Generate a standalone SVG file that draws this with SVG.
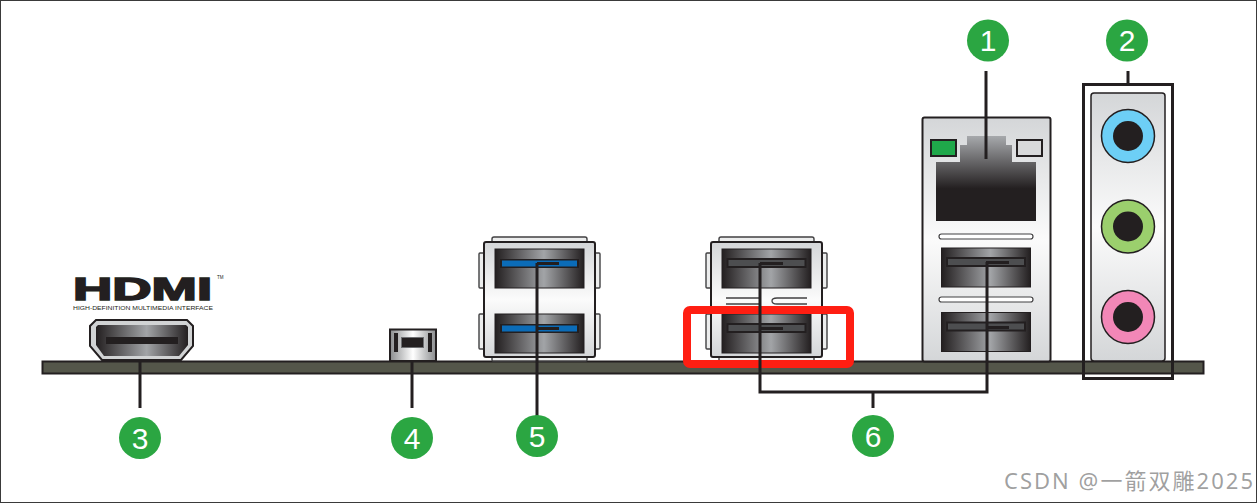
<svg xmlns="http://www.w3.org/2000/svg" width="1257" height="503" viewBox="0 0 1257 503">
<defs>
<linearGradient id="port" x1="0" x2="1" y1="0" y2="0"><stop offset="0" stop-color="#231f20"/><stop offset=".55" stop-color="#a2a4a7"/><stop offset="1" stop-color="#231f20"/></linearGradient>
<linearGradient id="metal" x1="0" x2="0" y1="0" y2="1"><stop offset="0" stop-color="#d4d6d8"/><stop offset=".5" stop-color="#fbfbfb"/><stop offset="1" stop-color="#d4d6d8"/></linearGradient>
<linearGradient id="lan" x1="0" x2="0" y1="0" y2="1"><stop offset="0" stop-color="#a7a9ac"/><stop offset=".62" stop-color="#231f20"/><stop offset="1" stop-color="#231f20"/></linearGradient>
<linearGradient id="btn" x1="0" x2="1" y1="0" y2="0"><stop offset="0" stop-color="#8a8c8e"/><stop offset=".5" stop-color="#fff"/><stop offset="1" stop-color="#8a8c8e"/></linearGradient>
<g id="usbport"><rect x="0" y="0" width="89" height="39" fill="url(#port)" stroke="#231f20"/><rect x="5.500" y="10" width="78" height="8" fill="#4d4e50" stroke="#231f20" stroke-width="2"/></g>
<g id="usbport3"><rect x="0" y="0" width="89" height="39" fill="url(#port)" stroke="#231f20"/><rect x="5" y="10" width="79" height="9" fill="#231f20"/><rect x="7" y="11.500" width="75" height="6" fill="#0b6cb8"/></g>
<g id="stack">
<rect x="8" y="-5" width="95" height="6" rx="2" fill="#eceded" stroke="#414042" stroke-width="1.400"/>
<rect x="8" y="114" width="95" height="5" rx="1" fill="#eceded" stroke="#414042" stroke-width="1.400"/>
<rect x="-5" y="11" width="6" height="35" rx="1" fill="#eceded" stroke="#414042" stroke-width="1.400"/>
<rect x="-5" y="72" width="6" height="35" rx="1" fill="#eceded" stroke="#414042" stroke-width="1.400"/>
<rect x="110" y="11" width="6" height="35" rx="1" fill="#eceded" stroke="#414042" stroke-width="1.400"/>
<rect x="110" y="72" width="6" height="35" rx="1" fill="#eceded" stroke="#414042" stroke-width="1.400"/>
<rect x="0" y="0" width="111" height="115" rx="2" fill="url(#metal)" stroke="#231f20" stroke-width="2"/>
</g>
</defs>
<style>
.num{font-family:"Liberation Sans",Arial,sans-serif;font-size:30px;fill:#fff;text-anchor:middle}
.badge{fill:#2ba642}
.ln{fill:none;stroke:#231f20;stroke-width:3}
.slot{fill:#fff;stroke:#414042;stroke-width:1.200}
</style>
<rect width="1257" height="503" fill="#fff"/>
<rect x=".5" y=".5" width="1256" height="502" fill="none" stroke="#3a3a3a"/>

<g id="board"><rect x="42.500" y="361.500" width="1161" height="12" fill="#54564a" stroke="#231f20" stroke-width="2"/></g>

<g id="hdmi">
<text x="73" y="299.500" font-family="Liberation Sans,Arial,sans-serif" font-weight="700" font-size="32" textLength="139" lengthAdjust="spacingAndGlyphs" fill="#231f20" stroke="#231f20" stroke-width="1.600">HDMI</text>
<text x="217" y="279" font-family="Liberation Sans,Arial,sans-serif" font-size="4.500" fill="#231f20">TM</text>
<text x="73" y="310" font-family="Liberation Sans,Arial,sans-serif" font-size="5.500" textLength="140" lengthAdjust="spacingAndGlyphs" fill="#231f20">HIGH-DEFINITION MULTIMEDIA INTERFACE</text>
<path d="M96 320H187L193 326V346L181 360H102L90 346V326Z" fill="#d1d3d4" stroke="#231f20" stroke-width="2"/>
<path d="M98 325H186L188 327V345L179 356H104L96 345V327Z" fill="url(#port)"/>
<rect x="106" y="337" width="72" height="7" fill="#231f20"/>
</g>

<g id="button">
<rect x="390" y="329.500" width="46" height="31.500" fill="url(#btn)" stroke="#231f20" stroke-width="2"/>
<rect x="394" y="333" width="4" height="19" fill="#231f20"/>
<rect x="428" y="333" width="4" height="19" fill="#231f20"/>
<rect x="401.500" y="337.500" width="22" height="10" fill="#231f20" stroke="#6d6e71"/>
</g>

<g id="usb5">
<use href="#stack" x="484" y="242"/>
<use href="#usbport3" x="495" y="249"/>
<use href="#usbport3" x="495" y="314"/>
<rect x="537" y="262" width="22" height="3" fill="#231f20"/>
<rect x="537" y="327" width="22" height="3" fill="#231f20"/>
</g>

<g id="usb6a">
<use href="#stack" x="711" y="242"/>
<use href="#usbport" x="722" y="249"/>
<use href="#usbport" x="722" y="314"/>
<rect x="760" y="262" width="23" height="3" fill="#231f20"/>
<rect x="760" y="327" width="23" height="3" fill="#231f20"/>
<path d="M726 298H760M726 304H760M807 298H777Q772 298 772 301Q772 304 777 304H807" fill="none" stroke="#414042" stroke-width="1.300"/>
</g>

<g id="lanusb">
<rect x="922.500" y="117.500" width="128" height="244" rx="2" fill="url(#metal)" stroke="#231f20" stroke-width="2"/>
<rect x="931" y="140" width="25" height="16" fill="#1fa84a" stroke="#231f20" stroke-width="2"/>
<rect x="1017" y="140" width="25" height="16" fill="#d8d9da" stroke="#231f20" stroke-width="2"/>
<path d="M936 162H960V145H967V136H1006V145H1012V162H1036V221H936Z" fill="url(#lan)"/>
<rect x="939" y="234" width="94" height="5" rx="2.500" class="slot"/>
<rect x="939" y="297" width="94" height="5" rx="2.500" class="slot"/>
<use href="#usbport" x="941.500" y="248"/>
<use href="#usbport" x="941.500" y="312.500"/>
<rect x="986" y="261" width="23" height="3" fill="#231f20"/>
<rect x="986" y="326" width="23" height="3" fill="#231f20"/>
</g>

<g id="audio">
<rect x="1091" y="93" width="74" height="268" rx="3" fill="url(#metal)" stroke="#231f20" stroke-width="1.500"/>
<circle cx="1128" cy="136" r="26.500" fill="#6dcff6" stroke="#231f20" stroke-width="1.500"/><circle cx="1128" cy="136" r="15" fill="#231f20"/>
<circle cx="1128" cy="226.500" r="26.500" fill="#9bcf6d" stroke="#231f20" stroke-width="1.500"/><circle cx="1128" cy="226.500" r="15" fill="#231f20"/>
<circle cx="1128" cy="317" r="26.500" fill="#f287b7" stroke="#231f20" stroke-width="1.500"/><circle cx="1128" cy="317" r="15" fill="#231f20"/>
<rect x="1083.500" y="84.500" width="89" height="294" fill="none" stroke="#231f20" stroke-width="3"/>
</g>

<g id="highlight"><rect x="687" y="310" width="163" height="54" rx="3" fill="none" stroke="#ff1e12" stroke-width="8"/></g>

<g id="connectors">
<path class="ln" d="M986 71V159"/>
<path class="ln" d="M1128 71V85"/>
<path class="ln" d="M140 362V408"/>
<path class="ln" d="M412 362V408"/>
<path class="ln" d="M537 263V418"/>
<path class="ln" d="M760 263V392H987V262"/>
<path class="ln" d="M873 392V408"/>
</g>

<g id="n1"><circle class="badge" cx="988" cy="40.500" r="21"/><text class="num" x="988" y="51">1</text></g>
<g id="n2"><circle class="badge" cx="1127" cy="40.500" r="21"/><text class="num" x="1127" y="51">2</text></g>
<g id="n3"><circle class="badge" cx="140" cy="438" r="21"/><text class="num" x="140" y="449">3</text></g>
<g id="n4"><circle class="badge" cx="412" cy="438" r="21"/><text class="num" x="412" y="449">4</text></g>
<g id="n5"><circle class="badge" cx="537" cy="436" r="21"/><text class="num" x="537" y="447">5</text></g>
<g id="n6"><circle class="badge" cx="873" cy="436" r="21"/><text class="num" x="873" y="447">6</text></g>

<text x="1004" y="489" font-family="'Noto Sans','Noto Sans CJK SC',sans-serif" font-size="22" textLength="249" fill="#8f8f8f" fill-opacity=".85">CSDN @一箭双雕2025</text>
</svg>
